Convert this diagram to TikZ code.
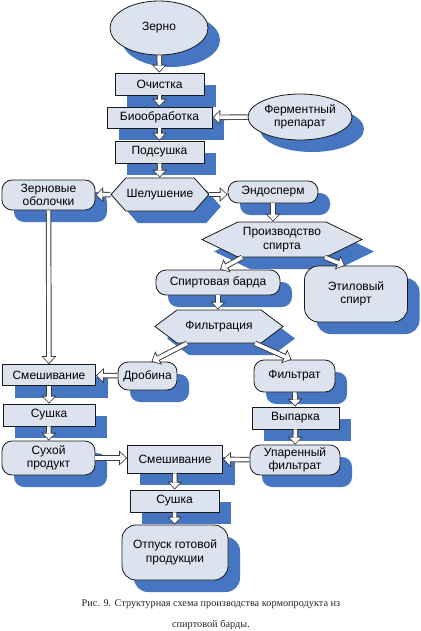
\documentclass[tikz,border=0pt]{standalone}
\usepackage{fontspec}
\setmainfont{Liberation Serif}
\setsansfont{Liberation Sans}
\usepackage{xcolor}
\definecolor{boxfill}{HTML}{DCE3EE}
\definecolor{shade}{HTML}{4675C2}
\definecolor{edge}{HTML}{1A1A1A}
\definecolor{arrline}{HTML}{3C3C3C}
\usetikzlibrary{arrows.meta,positioning,shapes.geometric,shapes.symbols,shadows}
\tikzset{
  box/.style={draw=edge,line width=0.8pt,fill=boxfill,inner sep=1pt,align=center,
    font=\fontsize{12}{13.5}\selectfont\sffamily,
    drop shadow={shadow xshift=12pt,shadow yshift=-12pt,fill=shade,opacity=1}},
  rbox/.style={box,rounded corners=10pt},
  oval/.style={box,ellipse},
  hexa/.style={box,signal,signal to=west and east},
  barr/.style={draw=arrline,line width=5.5pt,-{Triangle[length=8pt,width=15pt,line width=0pt]},
    postaction={draw=white,line width=3.6pt,-{Triangle[length=5.6pt,width=11pt,line width=0pt]},shorten >=1.3pt}},
}

\begin{document}
\begin{tikzpicture}[x=1pt,y=-1pt]
\useasboundingbox (0,0) rectangle (420,631);
% main column
\node[oval,minimum width=98pt,minimum height=54pt] (zerno) at (159,28) {Зерно};
\node[box,minimum width=89pt,minimum height=22pt] (och) at (159.5,84) {Очистка};
\node[box,minimum width=105pt,minimum height=21pt] (bio) at (159.5,117.5) {Биообработка};
\node[oval,minimum width=104pt,minimum height=46pt] (ferm) at (300,117) {Ферментный\\препарат};
\node[box,minimum width=89pt,minimum height=22pt] (pods) at (159.5,152) {Подсушка};
\node[hexa,minimum width=96pt,minimum height=33pt,signal pointer angle=97] (shel) at (160,194.5) {Шелушение};
\node[rbox,minimum width=93pt,minimum height=30pt] (obol) at (48.5,195) {Зерновые\\оболочки};
\node[rbox,minimum width=90pt,minimum height=22pt] (endo) at (273,192) {Эндосперм};
% spirit branch
\node[hexa,minimum width=160pt,minimum height=35pt,signal pointer angle=52] (proizv) at (282,239.5) {Производство\\спирта};
\node[rbox,minimum width=124pt,minimum height=25pt] (barda) at (218,282.5) {Спиртовая барда};
\node[rbox,rounded corners=14pt,minimum width=103pt,minimum height=56pt] (etil) at (356,294) {Этиловый\\спирт};
\node[hexa,minimum width=128pt,minimum height=33pt,signal pointer angle=74] (filtr) at (219,326.5) {Фильтрация};
\node[rbox,minimum width=59pt,minimum height=28pt] (drob) at (147.5,376) {Дробина};
\node[rbox,minimum width=81pt,minimum height=32pt] (filtrat) at (294.5,376) {Фильтрат};
% left column
\node[box,minimum width=93pt,minimum height=21pt] (smesh1) at (49,375) {Смешивание};
\node[box,minimum width=92pt,minimum height=22pt] (sush1) at (49,415) {Сушка};
\node[rbox,minimum width=93pt,minimum height=34pt] (suhoi) at (48.5,458) {Сухой\\продукт};
% right column
\node[box,minimum width=87pt,minimum height=22pt] (vyp) at (295.5,418) {Выпарка};
\node[rbox,minimum width=90pt,minimum height=30pt] (upar) at (295,460) {Упаренный\\фильтрат};
% final column
\node[box,minimum width=95pt,minimum height=28pt] (smesh2) at (175,459) {Смешивание};
\node[box,minimum width=89pt,minimum height=22pt] (sush2) at (174.5,501) {Сушка};
\node[rbox,rounded corners=14pt,minimum width=106pt,minimum height=55pt] (otpusk) at (175,552.5) {Отпуск готовой\\продукции};
% arrows
\draw[barr] (zerno) -- (och);
\draw[barr] (och) -- (bio);
\draw[barr] (ferm) -- (bio);
\draw[barr] (bio) -- (pods);
\draw[barr] (pods) -- (shel);
\draw[barr] (shel.west) -- (obol.east);
\draw[barr] (shel.east) -- (endo.west |- shel.east);
\draw[barr] (endo) -- (endo |- proizv.north);
\draw[barr] ([xshift=-40pt]proizv.south) -- ([xshift=2pt]barda.north);
\draw[barr] ([xshift=43pt]proizv.south) -- ([xshift=-11pt]etil.north);
\draw[barr] (barda) -- (barda |- filtr.north);
\draw[barr] ([xshift=-32pt]filtr.south) -- ([xshift=4pt]drob.north);
\draw[barr] ([xshift=36pt]filtr.south) -- ([xshift=-3pt]filtrat.north);
\draw[barr] (obol) -- (smesh1);
\draw[barr] (drob) -- (smesh1);
\draw[barr] (smesh1) -- (sush1);
\draw[barr] (sush1) -- (suhoi);
\draw[barr] (filtrat) -- (vyp);
\draw[barr] (vyp) -- (upar);
\draw[barr] (suhoi.east) -- (smesh2.west |- suhoi.east);
\draw[barr] (upar) -- (smesh2);
\draw[barr] (smesh2) -- (sush2);
\draw[barr] (sush2) -- (otpusk);
% caption
\node[font=\fontsize{10.3}{20}\selectfont,align=center,text=black!85] (cap) at (211,615) {Рис. 9. Структурная схема производства кормопродукта из\\[1pt]спиртовой барды.};
\end{tikzpicture}
\end{document}
